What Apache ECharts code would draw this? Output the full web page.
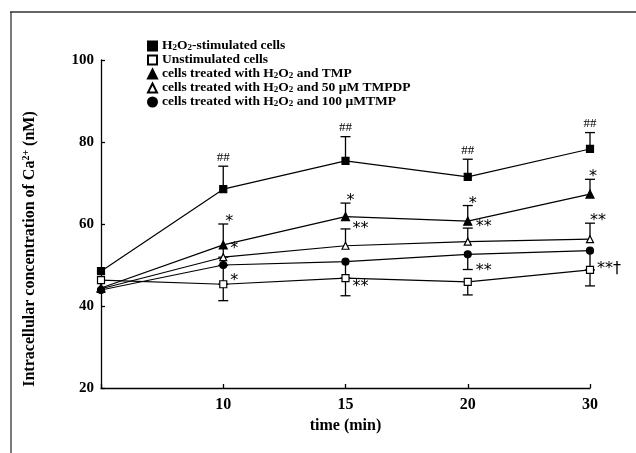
<!DOCTYPE html>
<html>
<head>
<meta charset="utf-8">
<script src="https://cdn.jsdelivr.net/npm/echarts@6/dist/echarts.min.js"></script>
<style>
  html, body { margin: 0; padding: 0; background: #fff; }
  #chart { width: 636px; height: 453px; }
</style>
</head>
<body>
<div id="chart"></div>
<script>
// time points (min); first one is the baseline at the y axis
var categories = ['0', '10', '15', '20', '30'];
var yTicks = [20, 40, 60, 80, 100];

var names = ['H2O2', 'Unstim', 'TMP', 'TMPDP', 'MTMP'];

var h2o2 = [48.5, 68.5, 75.4, 71.5, 78.3];
var unstim = [46.3, 45.3, 46.8, 45.9, 48.8];
var tmp = [44.4, 54.9, 61.8, 60.7, 67.3];
var tmpdp = [44.2, 51.9, 54.7, 55.7, 56.3];
var mtmp = [43.9, 50.0, 50.8, 52.6, 53.5];

// one-sided error bars (up / down)
var h2o2Up = [0, 5.6, 5.9, 4.3, 4.0];
var unstimDown = [0, 4.0, 4.3, 3.2, 3.9];
var tmpUp = [0, 5.1, 3.3, 3.8, 3.6];
var tmpDown = [0, 3.0, 0, 0, 0];
var tmpdpUp = [0, 0, 4.1, 3.3, 3.9];
var tmpdpDown = [0, 2.0, 0, 0, 0];
var mtmpDown = [0, 4.7, 4.0, 3.7, 4.7];

// significance marks: series, time index, anchor ('up' cap, 'down' cap, 'pt' point), text
var annoSeries = [0, 0, 0, 0, 2, 2, 2, 2, 2, 3, 3, 3, 1, 1, 4, 1];
var annoIndex = [1, 2, 3, 4, 1, 2, 3, 4, 1, 2, 3, 4, 1, 2, 3, 4];
var annoAnchor = ['up', 'up', 'up', 'up', 'up', 'up', 'up', 'up', 'pt', 'up', 'up', 'up', 'pt', 'pt', 'down', 'pt'];
var annoText = ['##', '##', '##', '##', '*', '*', '*', '*', '*', '**', '**', '**', '*', '**', '**', '**\u2020'];
// pixel offsets of the marks
var annoDx = [0, 0, 0, 0, 6, 5, 5, 3, 11, 15, 16, 8, 11, 15, 16, 19];
var annoDy = [-9, -9, -9, -9, -6, -6, -6, -6, 0, -4, -5, -6, -7, 5, -3, -5];

var values = [h2o2, unstim, tmp, tmpdp, mtmp];
var ups = [h2o2Up, null, tmpUp, tmpdpUp, null];
var downs = [null, unstimDown, tmpDown, tmpdpDown, mtmpDown];

var legendLabels = {
    'H2O2': 'H{s|2}O{s|2}-stimulated cells',
    'Unstim': 'Unstimulated cells',
    'TMP': 'cells treated with H{s|2}O{s|2} and TMP',
    'TMPDP': 'cells treated with H{s|2}O{s|2} and 50 \u03bcM TMPDP',
    'MTMP': 'cells treated with H{s|2}O{s|2} and 100 \u03bcMTMP'
};

var SERIF = '"Liberation Serif", "Times New Roman", serif';

// error bar rows: [x index, low, high, capOnTop]
var errData = [];
for (var s = 0; s < values.length; s++) {
    for (var i = 0; i < categories.length; i++) {
        var v = values[s][i];
        if (ups[s] && ups[s][i]) errData.push([i, v, v + ups[s][i], 1]);
        if (downs[s] && downs[s][i]) errData.push([i, v - downs[s][i], v, 0]);
    }
}

function anchorValue(k) {
    var s = annoSeries[k], i = annoIndex[k], v = values[s][i];
    if (annoAnchor[k] == 'up') return v + ups[s][i];
    if (annoAnchor[k] == 'down') return v - downs[s][i];
    return v;
}
var annoData = [];
for (var k = 0; k < annoText.length; k++) {
    annoData.push([annoIndex[k], anchorValue(k)]);
}

var symbols = ['rect', 'rect', 'triangle', 'triangle', 'circle'];
var fills = ['#000', '#fff', '#000', '#fff', '#000'];
var sizes = [7, 7, 8, 7, 7];

var lineSeries = names.map(function (n, s) {
    return {
        name: n,
        type: 'line',
        data: values[s],
        symbol: symbols[s],
        symbolSize: sizes[s],
        showAllSymbol: true,
        z: 3,
        lineStyle: { color: '#000', width: 1.2 },
        itemStyle: { color: fills[s], borderColor: '#000', borderWidth: 1.2 }
    };
});

var chart = echarts.init(document.getElementById('chart'));
var option = {
    backgroundColor: '#fff',
    animation: false,
    grid: { left: 101, right: 46, top: 60, bottom: 65 },
    legend: {
        orient: 'vertical',
        left: 147,
        top: 39,
        padding: 0,
        itemWidth: 9,
        itemHeight: 9,
        itemGap: 0,
        data: names.map(function (n, s) { return { name: n, icon: symbols[s] }; }),
        formatter: function (n) { return legendLabels[n]; },
        textStyle: {
            fontFamily: SERIF, fontWeight: 'bold', fontSize: 13.5, color: '#000', lineHeight: 13,
            rich: {
                s: { fontFamily: SERIF, fontWeight: 'bold', fontSize: 9, color: '#000', verticalAlign: 'bottom', lineHeight: 7 }
            }
        }
    },
    xAxis: {
        type: 'category',
        data: categories,
        boundaryGap: false,
        name: 'time (min)',
        nameLocation: 'middle',
        nameGap: 29,
        nameTextStyle: { fontFamily: SERIF, fontWeight: 'bold', fontSize: 16, color: '#000' },
        axisLine: { lineStyle: { color: '#000', width: 1.3 } },
        axisTick: { inside: true, length: 4, lineStyle: { color: '#000', width: 1.3 } },
        axisLabel: {
            fontFamily: SERIF, fontWeight: 'bold', fontSize: 16, color: '#000', margin: 9,
            formatter: function (v, idx) { return idx === 0 ? '' : v; }
        },
        splitLine: { show: false }
    },
    yAxis: {
        type: 'value',
        min: yTicks[0],
        max: yTicks[yTicks.length - 1],
        interval: 20,
        axisLine: { show: true, lineStyle: { color: '#000', width: 1.3 } },
        axisTick: { show: true, inside: true, length: 4, lineStyle: { color: '#000', width: 1.3 } },
        axisLabel: { fontFamily: SERIF, fontWeight: 'bold', fontSize: 15, color: '#000', margin: 7 },
        splitLine: { show: false }
    },
    graphic: [
        { type: 'line', shape: { x1: 10, y1: 12, x2: 636, y2: 12 }, style: { stroke: '#333', lineWidth: 1.3 } },
        { type: 'line', shape: { x1: 11, y1: 12, x2: 11, y2: 453 }, style: { stroke: '#333', lineWidth: 1.3 } },
        {
            type: 'text', x: 30, y: 249, rotation: Math.PI / 2,
            style: {
                text: 'Intracellular concentration of Ca{p|2+} (nM)',
                fontFamily: SERIF, fontWeight: 'bold', fontSize: 16, fill: '#000', lineHeight: 18,
                align: 'center', verticalAlign: 'middle',
                rich: { p: { fontFamily: SERIF, fontWeight: 'bold', fontSize: 10, fill: '#000', verticalAlign: 'top', lineHeight: 11 } }
            }
        }
    ],
    series: [{
        type: 'custom',
        z: 1,
        silent: true,
        data: errData,
        renderItem: function (params, api) {
            var lo = api.coord([api.value(0), api.value(1)]);
            var hi = api.coord([api.value(0), api.value(2)]);
            var capY = api.value(3) ? hi[1] : lo[1];
            var w = 5;
            return {
                type: 'group',
                children: [
                    { type: 'line', shape: { x1: lo[0], y1: lo[1], x2: hi[0], y2: hi[1] }, style: { stroke: '#000', lineWidth: 1.3 } },
                    { type: 'line', shape: { x1: lo[0] - w, y1: capY, x2: lo[0] + w, y2: capY }, style: { stroke: '#000', lineWidth: 1.3 } }
                ]
            };
        }
    }, {
        type: 'custom',
        z: 4,
        silent: true,
        data: annoData,
        renderItem: function (params, api) {
            var k = params.dataIndex;
            var p = api.coord([api.value(0), api.value(1)]);
            var t = annoText[k];
            var hash = t.indexOf('#') >= 0;
            return {
                type: 'text',
                x: p[0] + annoDx[k],
                y: p[1] + annoDy[k] + (hash ? 0 : 4),
                style: {
                    text: t,
                    fontFamily: hash ? SERIF : '"DejaVu Sans", sans-serif',
                    fontSize: hash ? 13 : 16,
                    fill: '#000',
                    align: 'center',
                    verticalAlign: 'middle'
                }
            };
        }
    }].concat(lineSeries)
};
chart.setOption(option);
</script>
</body>
</html>
